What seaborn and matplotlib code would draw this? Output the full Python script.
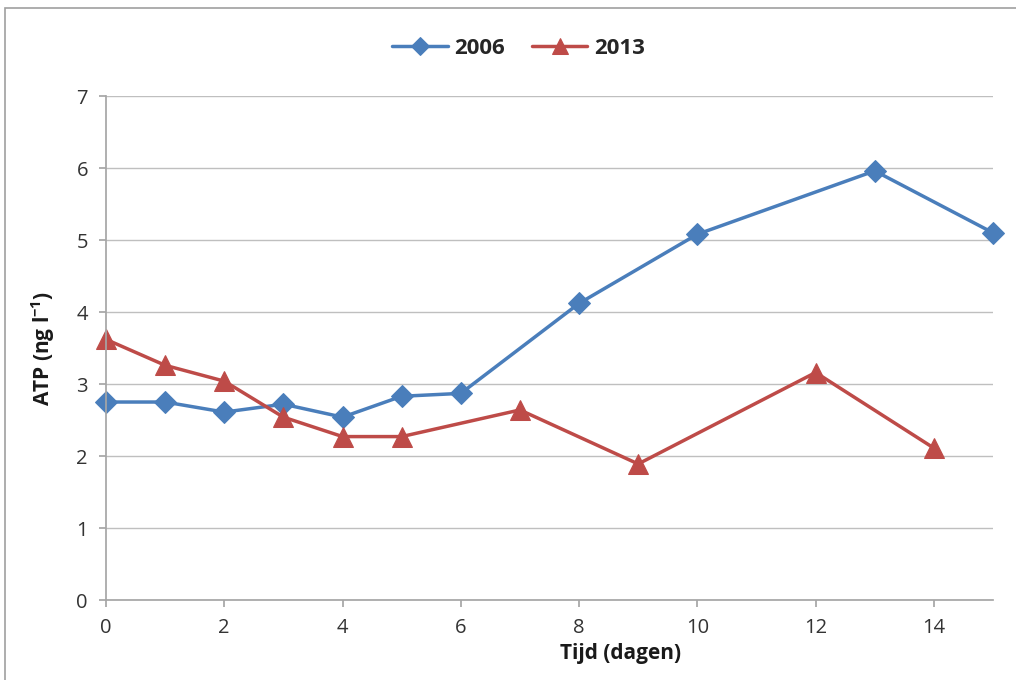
import matplotlib
matplotlib.use("Agg")
import matplotlib.pyplot as plt
import seaborn as sns
import pandas as pd
from matplotlib.patches import Rectangle

x_2006 = [0, 1, 2, 3, 4, 5, 6, 8, 10, 13, 15]
y_2006 = [2.75, 2.75, 2.61, 2.72, 2.54, 2.83, 2.87, 4.12, 5.08, 5.96, 5.10]
x_2013 = [0, 1, 2, 3, 4, 5, 7, 9, 12, 14]
y_2013 = [3.62, 3.26, 3.04, 2.54, 2.27, 2.27, 2.64, 1.89, 3.16, 2.11]
x_ticks = [0, 2, 4, 6, 8, 10, 12, 14]
y_ticks = [0, 1, 2, 3, 4, 5, 6, 7]

sns.set_theme(style="white")
plt.rcParams['font.family'] = ['Open Sans', 'DejaVu Sans']
plt.rcParams['mathtext.fontset'] = 'custom'
plt.rcParams['mathtext.bf'] = 'Open Sans:bold'
plt.rcParams['mathtext.rm'] = 'Open Sans:bold'

fig = plt.figure(figsize=(10.16, 6.8), dpi=100)
ax = fig.add_axes([0.1043, 0.1176, 0.8731, 0.7412])

df06 = pd.DataFrame({"x": x_2006, "y": y_2006})
df13 = pd.DataFrame({"x": x_2013, "y": y_2013})

sns.lineplot(data=df06, x="x", y="y", ax=ax, color="#4a7ebb", linewidth=2.5,
             marker="D", markersize=11, markeredgecolor="#4a7ebb", label="2006", clip_on=False)
sns.lineplot(data=df13, x="x", y="y", ax=ax, color="#be4b48", linewidth=2.5,
             marker="^", markersize=14, markeredgecolor="#be4b48", label="2013", clip_on=False)

ax.set_xlim(0, 15)
ax.set_ylim(0, 7)
ax.set_xticks(x_ticks)
ax.set_yticks(y_ticks)
ax.grid(axis="y", color="#bfbfbf", linewidth=1)
ax.set_axisbelow(True)
for s in ["top", "right"]:
    ax.spines[s].set_visible(False)
ax.spines["left"].set_color("#a6a6a6")
ax.spines["bottom"].set_color("#a6a6a6")
ax.tick_params(axis="both", which="major", length=5, color="#a6a6a6",
               direction="out", labelsize=14.5, labelcolor="#333333", pad=8,
               bottom=True, left=True)
ax.set_xlabel("Tijd (dagen)", fontsize=15, fontweight="bold", color="#1a1a1a", labelpad=0)
ax.xaxis.set_label_coords(0.58, -0.085)
ax.set_ylabel(r"ATP (ng l$^{\mathrm{-1}}$)", fontsize=15, fontweight="bold", color="#1a1a1a", labelpad=14)

leg = ax.legend(loc="upper center", bbox_to_anchor=(0.465, 1.155), ncol=2, frameon=False,
                prop={"size": 16, "weight": "bold"}, handlelength=2.5, columnspacing=1.2,
                handletextpad=0.3, markerscale=0.8)

fig.patches.append(Rectangle((5/1016, -0.05), 1.1, 1 - 8/680 + 0.05, transform=fig.transFigure,
                             fill=False, edgecolor="#a0a0a0", linewidth=1.2))

fig.savefig("out.png", dpi=100)
